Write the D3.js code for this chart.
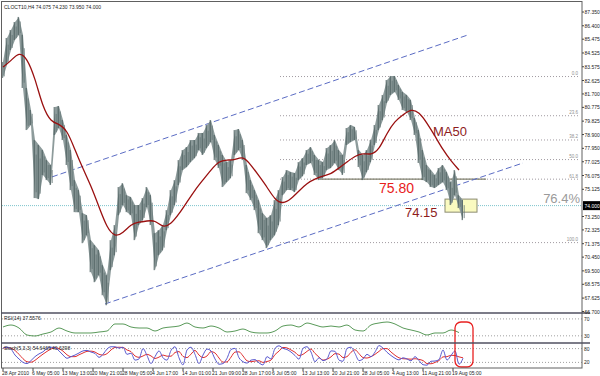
<!DOCTYPE html>
<html>
<head>
<meta charset="utf-8">
<script src="https://cdn.jsdelivr.net/npm/d3@7/dist/d3.min.js"></script>
<style>
  body { margin: 0; background: #fff; }
  svg { display: block; font-family: "Liberation Sans", Arial, sans-serif; }
</style>
</head>
<body>
<script>
// ---------------- data (CLOCT10, H4) ----------------
// one entry per plotted bar group
const barHigh = [83.90,85.56,86.11,86.66,87.01,85.77,82.11,80.59,78.52,78.18,77.83,77.14,76.80,80.80,80.87,79.90,78.87,77.83,75.76,75.07,
  73.48,73.34,71.62,71.27,70.93,69.89,69.20,71.62,72.66,75.28,75.55,74.72,74.59,74.04,74.04,74.52,75.28,74.72,72.10,72.31,
  72.66,73.69,75.07,75.76,77.14,77.83,78.04,78.52,78.52,79.01,79.01,79.56,79.90,78.87,78.18,77.49,77.00,77.14,79.21,79.28,
  78.52,76.80,75.76,75.07,74.38,73.48,73.14,73.34,74.38,75.07,75.97,76.45,76.31,76.25,77.00,77.28,77.83,78.04,77.49,77.14,
  77.00,77.97,78.18,78.52,77.83,77.49,79.35,79.56,79.42,77.83,77.49,77.83,78.52,79.56,80.94,81.63,82.66,82.94,82.94,82.32,
  81.84,81.63,81.28,80.04,79.21,77.83,76.80,76.45,76.11,76.59,76.80,76.31,75.62,76.45,74.72,74.38];
const barLow = [82.80,83.70,84.73,85.42,85.77,82.11,79.21,79.56,74.52,74.45,76.11,75.76,75.42,78.87,79.35,78.52,76.80,75.07,73.55,73.55,
  71.41,71.96,69.41,68.72,69.20,67.82,67.13,69.55,70.58,73.34,74.04,73.55,73.34,71.62,72.66,73.00,73.90,72.66,69.55,70.58,
  70.93,72.31,73.34,74.04,75.42,76.45,76.66,77.00,77.28,77.83,77.49,77.97,78.38,77.14,76.59,75.28,75.62,75.90,77.49,77.83,
  77.14,74.86,74.38,73.69,72.10,71.62,71.07,71.62,71.96,72.66,74.72,75.07,75.07,74.93,75.76,76.04,76.80,76.94,76.11,75.76,
  75.90,76.45,76.59,76.94,76.45,76.11,78.18,78.38,78.52,76.66,75.76,76.31,77.00,78.18,79.21,79.90,81.08,81.63,81.84,81.28,
  80.59,80.46,79.90,78.87,76.94,75.76,75.62,75.28,75.21,75.42,75.62,75.07,74.04,74.72,73.83,73.00];

// every second bar
const ma50 = [83.56,83.98,84.60,84.18,82.80,80.73,79.77,79.63,79.22,77.84,76.53,75.36,73.91,72.46,71.84,72.11,72.73,72.87,72.94,73.01,
  72.46,72.73,73.42,74.25,75.08,75.77,76.46,77.08,77.15,77.15,77.42,76.80,76.05,75.29,74.39,74.11,74.46,75.01,75.56,75.84,
  76.05,76.18,76.60,77.01,77.42,77.63,77.49,77.84,79.01,79.84,80.25,80.67,80.46,79.70,78.80,77.84,77.08,76.46];
const rsi14 = [50.9,55.6,48.5,31.9,29.6,34.3,39.0,48.5,41.4,36.7,36.7,36.7,39.0,41.4,58.0,58.0,50.9,48.5,48.5,41.4,
  48.5,50.9,53.2,60.3,50.9,48.5,53.2,48.5,39.0,41.4,46.1,39.0,36.7,36.7,41.4,53.2,55.6,50.9,60.3,55.6,
  50.9,53.2,50.9,55.6,43.8,41.4,55.6,60.3,62.7,58.0,48.5,43.8,39.0,31.9,36.7,36.7,43.8,37.6];

// every bar
const stochMain = [82,86,78,52,35,20,15,28,45,57,66,81,86,84,70,52,38,45,52,61,70,72,65,59,42,55,78,88,88,82,
  86,55,60,30,35,80,50,15,45,70,40,30,72,88,40,9,74,86,55,15,52,78,70,35,12,15,38,76,81,40,
  23,17,30,32,18,9,45,35,81,92,81,76,65,50,34,81,88,65,23,40,28,35,70,68,30,25,81,86,59,28,
  35,55,45,65,93,82,64,50,38,31,40,35,27,45,28,10,8,25,26,32,74,30,50,70,12,38];
const stochSignal = [82,84,82,72,55,36,23,21,29,43,56,68,78,84,80,69,53,45,45,53,61,68,69,65,55,52,58,74,85,86,
  85,74,67,48,42,48,55,48,37,43,52,47,47,63,67,46,41,56,72,52,41,48,67,61,39,21,22,43,65,66,
  48,27,23,26,27,20,24,30,54,69,85,83,74,64,50,55,68,78,59,43,30,34,44,58,56,41,45,64,75,58,
  41,39,45,55,68,80,80,65,51,40,36,35,34,36,33,28,15,14,20,28,44,45,51,50,44,40];

// 74.200 sits under the current-price marker and is not shown
const priceTicks = [87.350,86.400,85.475,84.525,83.575,82.625,81.700,80.775,79.825,78.900,77.950,77.025,
  76.075,75.125,73.250,72.325,71.375,70.450,69.500,68.575,67.625,66.700];
const timeTicks = [0,7.5,15,22.5,30,37.5,45,52.5,60,67.5,75,82.5,90,97.5,105,112.5];
const timeLabels = ["28 Apr 2010","6 May 05:00","13 May 13:00","20 May 21:00","28 May 05:00","4 Jun 17:00",
  "14 Jun 01:00","21 Jun 09:00","28 Jun 17:00","6 Jul 05:00","13 Jul 13:00","20 Jul 21:00",
  "28 Jul 05:00","4 Aug 13:00","11 Aug 21:00","19 Aug 05:00"];

const fibLevels = [0, 23.6, 38.2, 50.0, 61.8, 76.4, 100.0];
const fibTop = 82.90, fibBottom = 71.45;
const lastPrice = 74.00;
const upperChannel = [[12.25, 75.98], [116.25, 85.77]];
const lowerChannel = [[25.5, 67.22], [130, 76.94]];

// ---------------- layout ----------------
const W = 600, H = 376;
const axisX = 582;
const mainTop = 3, mainBottom = 313;
const rsiTop = 313, rsiBottom = 343;
const stTop = 343, stBottom = 368;
const small = "5px";

const svg = d3.select("body").append("svg")
  .attr("width", W).attr("height", H);

const x = d3.scaleLinear().domain([0, 115]).range([3, 463]);
const y = d3.scaleLinear().domain([66.7, 87.35]).range([311.5, 12]);
const yR = d3.scaleLinear().domain([13, 84]).range([rsiBottom, rsiTop]);
const yS = d3.scaleLinear().domain([0, 100]).range([stBottom - 1, stTop + 1]);

svg.append("clipPath").attr("id", "cm")
  .append("rect").attr("x", 2).attr("y", mainTop).attr("width", axisX - 2).attr("height", mainBottom - mainTop);

const main = svg.append("g").attr("clip-path", "url(#cm)");

// current price line (dotted cyan, full width)
main.append("line")
  .attr("x1", 2).attr("x2", axisX)
  .attr("y1", y(lastPrice)).attr("y2", y(lastPrice))
  .attr("stroke", "#7cc4cc").attr("stroke-dasharray", "1,1");

// fibonacci levels
const fibStart = 69.25;
fibLevels.forEach(function (lv) {
  if (lv === 76.4) return;
  const p = fibTop - (fibTop - fibBottom) * lv / 100;
  main.append("line")
    .attr("x1", x(fibStart)).attr("x2", axisX - 2)
    .attr("y1", y(p)).attr("y2", y(p))
    .attr("stroke", "#a09aa0").attr("stroke-dasharray", "1,2");
  main.append("text")
    .attr("x", axisX - 4).attr("y", y(p) - 1.5)
    .attr("text-anchor", "end")
    .style("font-size", "4.5px").style("fill", "#909090")
    .text(lv.toFixed(1));
});

// 61.8 trend line
const p618 = fibTop - (fibTop - fibBottom) * 0.618;
main.append("line")
  .attr("x1", x(79.25)).attr("x2", x(120.75))
  .attr("y1", y(p618)).attr("y2", y(p618))
  .attr("stroke", "#80806e").attr("stroke-width", 1.2);

// channel
[upperChannel, lowerChannel].forEach(function (c) {
  main.append("line")
    .attr("x1", x(c[0][0])).attr("y1", y(c[0][1]))
    .attr("x2", x(c[1][0])).attr("y2", y(c[1][1]))
    .attr("stroke", "#5b6cc4").attr("stroke-width", 1)
    .attr("stroke-dasharray", "6,3");
});

// yellow box
main.append("rect")
  .attr("x", x(110.5)).attr("y", y(74.45))
  .attr("width", x(118.5) - x(110.5)).attr("height", y(73.55) - y(74.45))
  .attr("fill", "#fafac0").attr("stroke", "#8a8a70").attr("stroke-width", 1);

// price bars: a high-low band with dark strokes per bar
main.append("path")
  .datum(barHigh)
  .attr("fill", "#8d9b9b")
  .attr("d", d3.area()
    .x(function (d, i) { return x(i); })
    .y0(function (d, i) { return y(barLow[i]); })
    .y1(function (d) { return y(d); }));
main.selectAll(".wick").data(barHigh).enter().append("line")
  .attr("class", "wick")
  .attr("x1", function (d, i) { return x(i) - 0.8; })
  .attr("x2", function (d, i) { return x(i) - 0.8; })
  .attr("y1", function (d) { return y(d); })
  .attr("y2", function (d, i) { return y(barLow[i]); })
  .attr("stroke", "#4a5e5e").attr("stroke-width", 1);
main.selectAll(".wick2").data(barHigh).enter().append("line")
  .attr("class", "wick2")
  .attr("x1", function (d, i) { return x(i) + 1.2; })
  .attr("x2", function (d, i) { return x(i) + 1.2; })
  .attr("y1", function (d, i) { return y(d) + (y(barLow[i]) - y(d)) * 0.25; })
  .attr("y2", function (d, i) { return y(barLow[i]) - (y(barLow[i]) - y(d)) * 0.1; })
  .attr("stroke", "#617474").attr("stroke-width", 0.8);

// MA50
main.append("path")
  .datum(ma50)
  .attr("fill", "none").attr("stroke", "#9a1010").attr("stroke-width", 1.3)
  .attr("d", d3.line()
    .x(function (d, i) { return x(i * 2); })
    .y(function (d) { return y(d); })
    .curve(d3.curveBasis));

// annotations
main.append("text").attr("x", x(94)).attr("y", y(74.87))
  .style("font-size", "14px").style("fill", "#e8201c").text("75.80");
main.append("text").attr("x", x(100.5)).attr("y", y(73.22))
  .style("font-size", "13px").style("fill", "#8e1c1c").text("74.15");
main.append("text").attr("x", x(107.5)).attr("y", y(78.8))
  .style("font-size", "13px").style("fill", "#8e1c1c").text("MA50");
main.append("text").attr("x", axisX - 2).attr("y", y(74.17))
  .attr("text-anchor", "end")
  .style("font-size", "13px").style("fill", "#9a9a9a").text("76.4%");

main.append("text").attr("x", 4).attr("y", 8.5)
  .style("font-size", small).style("fill", "#222")
  .text("CLOCT10,H4  74.075 74.230 73.950 74.000");

// ---------------- RSI panel ----------------
[70, 30].forEach(function (lv) {
  svg.append("line").attr("x1", 2).attr("x2", axisX)
    .attr("y1", yR(lv)).attr("y2", yR(lv))
    .attr("stroke", "#a0a0a0").attr("stroke-dasharray", "1,2");
  svg.append("text").attr("x", axisX + 2).attr("y", yR(lv) + 2)
    .style("font-size", small).style("fill", "#222").text(lv);
});
svg.append("path").datum(rsi14)
  .attr("fill", "none").attr("stroke", "#5a9a5a").attr("stroke-width", 1)
  .attr("d", d3.line()
    .x(function (d, i) { return x(i * 2); })
    .y(function (d) { return yR(d); })
    .curve(d3.curveMonotoneX));
svg.append("text").attr("x", 4).attr("y", rsiTop + 7)
  .style("font-size", small).style("fill", "#222").text("RSI(14) 37.5576");

// ---------------- Stochastic panel ----------------
[80, 20].forEach(function (lv) {
  svg.append("line").attr("x1", 2).attr("x2", axisX)
    .attr("y1", yS(lv)).attr("y2", yS(lv))
    .attr("stroke", "#a0a0a0").attr("stroke-dasharray", "1,2");
  svg.append("text").attr("x", axisX + 2).attr("y", yS(lv) + 2)
    .style("font-size", small).style("fill", "#222").text(lv);
});
svg.append("path").datum(stochSignal)
  .attr("fill", "none").attr("stroke", "#e03030").attr("stroke-width", 1)
  .attr("d", d3.line()
    .x(function (d, i) { return x(i); })
    .y(function (d) { return yS(d); })
    .curve(d3.curveMonotoneX));
svg.append("path").datum(stochMain)
  .attr("fill", "none").attr("stroke", "#5a5ad0").attr("stroke-width", 1)
  .attr("d", d3.line()
    .x(function (d, i) { return x(i); })
    .y(function (d) { return yS(d); })
    .curve(d3.curveMonotoneX));
svg.append("text").attr("x", 4).attr("y", stTop + 7)
  .style("font-size", small).style("fill", "#222").text("Stoch(5,3,3) 54.6469 40.6398");

// red highlight around the latest indicator readings
svg.append("rect")
  .attr("x", x(113)).attr("y", rsiTop + 9)
  .attr("width", x(117.5) - x(113)).attr("height", stBottom - rsiTop - 10)
  .attr("rx", 6).attr("ry", 6)
  .attr("fill", "none").attr("stroke", "#e82020").attr("stroke-width", 1.3);

// ---------------- frame and axes ----------------
svg.append("rect").attr("x", 1.5).attr("y", 1.5)
  .attr("width", axisX - 1.5).attr("height", stBottom - 1.5)
  .attr("fill", "none").attr("stroke", "#606060").attr("stroke-width", 1);
[mainBottom, rsiBottom].forEach(function (yy) {
  svg.append("line").attr("x1", 1).attr("x2", axisX + 8)
    .attr("y1", yy).attr("y2", yy)
    .attr("stroke", "#505060").attr("stroke-width", 1.6);
});

// price axis
priceTicks.forEach(function (t) {
  svg.append("line").attr("x1", axisX).attr("x2", axisX + 2)
    .attr("y1", y(t)).attr("y2", y(t)).attr("stroke", "#444");
  svg.append("text").attr("x", axisX + 2.5).attr("y", y(t) + 2)
    .style("font-size", small).style("fill", "#222")
    .text(t.toFixed(3));
});

// current price marker
svg.append("rect").attr("x", axisX + 1).attr("y", y(lastPrice) - 4.5)
  .attr("width", W - axisX - 1).attr("height", 9).attr("fill", "#000");
svg.append("text").attr("x", axisX + 2.5).attr("y", y(lastPrice) + 2)
  .style("font-size", small).style("fill", "#fff").text(lastPrice.toFixed(3));

// time axis
timeTicks.forEach(function (t, i) {
  svg.append("line").attr("x1", x(t)).attr("x2", x(t))
    .attr("y1", stBottom).attr("y2", stBottom + 3).attr("stroke", "#444");
  svg.append("text").attr("x", x(t) - 1).attr("y", stBottom + 6.5)
    .style("font-size", small).style("fill", "#222")
    .text(timeLabels[i]);
});
</script>
</body>
</html>
